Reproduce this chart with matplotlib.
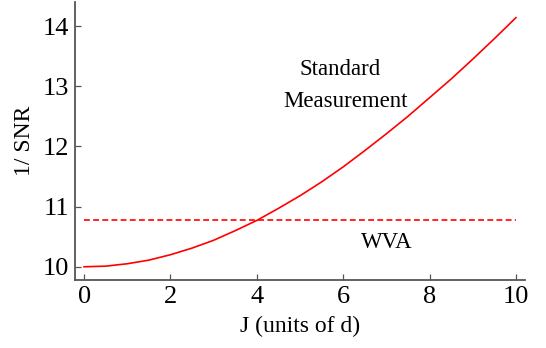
import matplotlib
matplotlib.use("Agg")
import matplotlib.pyplot as plt

# values
j_vals = [0, 0.5, 1, 1.5, 2, 2.5, 3, 3.5, 4, 4.5, 5, 5.5, 6, 6.5, 7, 7.5, 8, 8.5, 9, 9.5, 10]
std_vals = [10.00, 10.01, 10.05, 10.11, 10.20, 10.31, 10.44, 10.60, 10.77, 10.97, 11.18,
            11.41, 11.66, 11.93, 12.21, 12.50, 12.81, 13.12, 13.45, 13.79, 14.14]
wva_level = 10.78
x_ticks = [0, 2, 4, 6, 8, 10]
y_ticks = [10, 11, 12, 13, 14]

plt.rcParams['font.family'] = ['Liberation Serif', 'DejaVu Serif']

fig = plt.figure(figsize=(5.46, 3.48), dpi=100)
ax = fig.add_axes([75 / 546, 1 - 280 / 348, 450 / 546, 278 / 348])

ax.plot(j_vals, std_vals, color='red', lw=1.2)
ax.plot([j_vals[0], j_vals[-1]], [wva_level, wva_level], color='red', lw=1.2,
        linestyle=(0, (3.5, 2)))

ax.set_xlim(-0.21, 10.21)
ax.set_ylim(9.78, 14.4)
ax.set_xticks(x_ticks)
ax.set_yticks(y_ticks)

spine_col = '#555555'
for s in ['top', 'right']:
    ax.spines[s].set_visible(False)
for s in ['left', 'bottom']:
    ax.spines[s].set_color(spine_col)
    ax.spines[s].set_linewidth(1.3)
ax.tick_params(direction='in', length=4, width=0.9, color=spine_col,
               labelsize=19, pad=4)

ax.set_xlabel('J (units of d)', fontsize=17, labelpad=6)
ax.set_ylabel('1/ SNR', fontsize=17, labelpad=6)

ax.text(5.93, 13.27, 'Standard', fontsize=16.5, ha='center', va='center')
ax.text(6.05, 12.74, 'Measurement', fontsize=16.5, ha='center', va='center')
ax.text(7.0, 10.40, 'WVA', fontsize=16.5, ha='center', va='center')

fig.savefig('out.png', dpi=100)
